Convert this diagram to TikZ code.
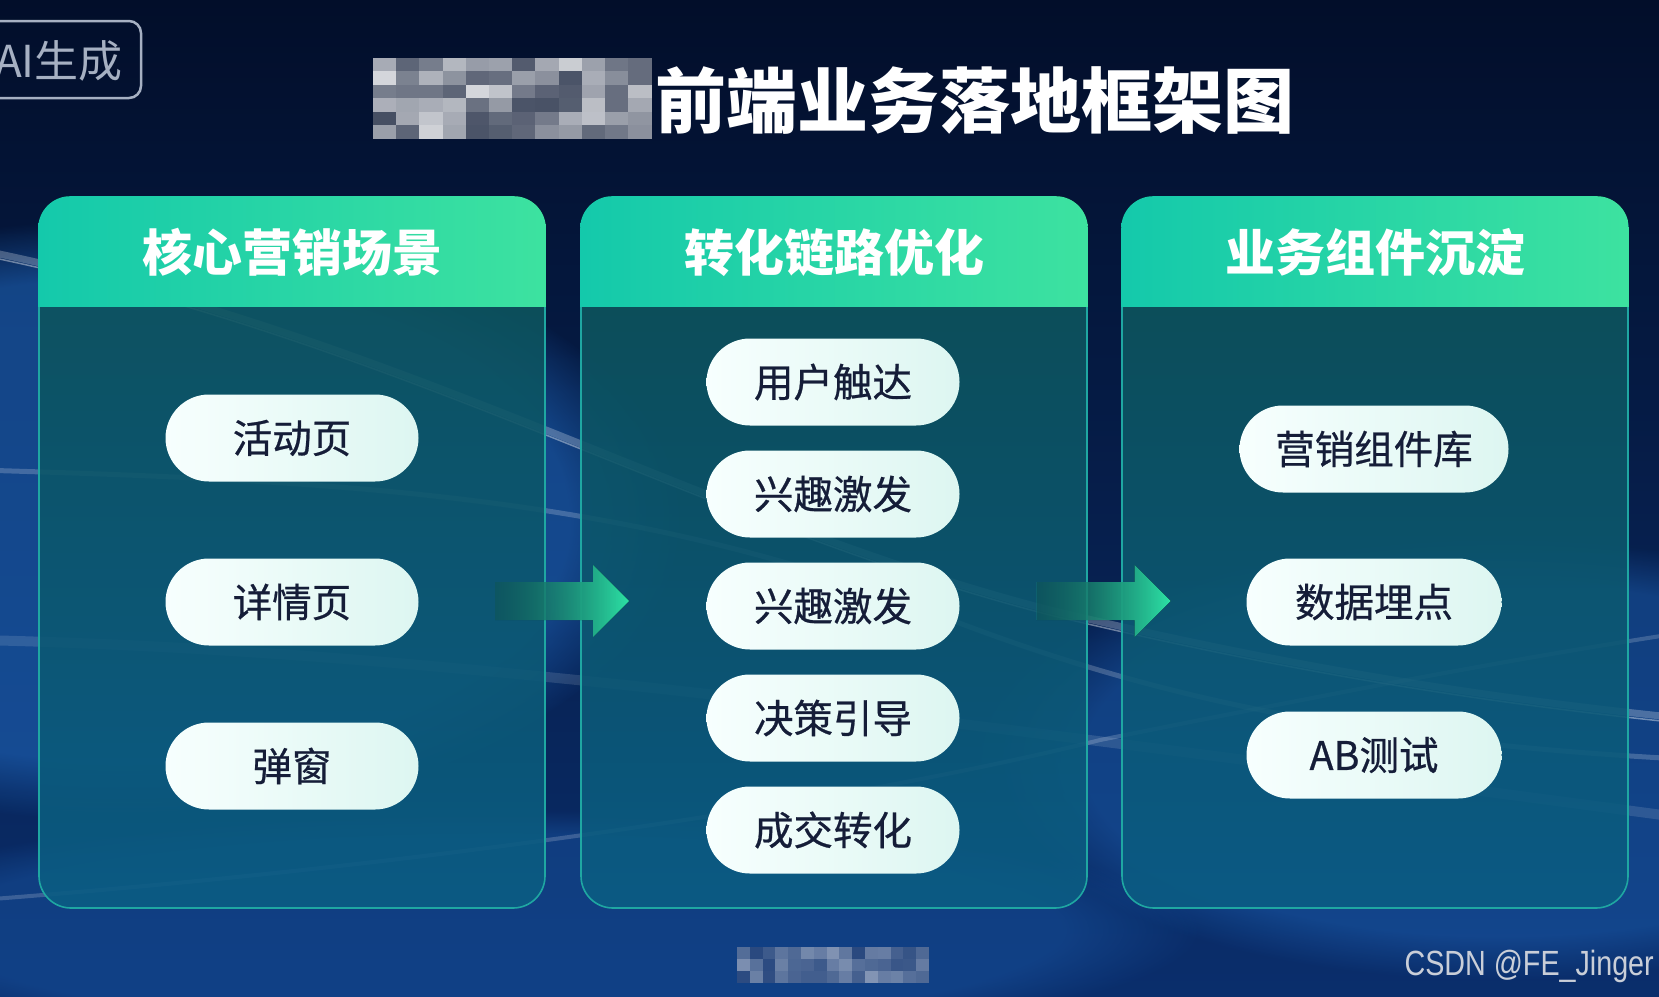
\documentclass[tikz,border=0pt]{standalone}
\usepackage{fontspec}
\newfontfamily\cjk{Noto Sans CJK SC}
\newfontfamily\cjkpill[FakeBold=0.6]{Noto Sans CJK SC}
\newfontfamily\wmfont[FakeStretch=0.82]{Liberation Sans}
\usetikzlibrary{shapes.misc,fadings,calc}
\definecolor{bgtop}{HTML}{020E2A}
\definecolor{bgbot}{HTML}{0A2E6C}
\definecolor{glow}{HTML}{1E64B8}
\definecolor{panelTop}{HTML}{0D5257}
\definecolor{panelBot}{HTML}{0B5C84}
\definecolor{panelLine}{HTML}{1FA7A2}
\definecolor{hdA}{HTML}{14C9AB}
\definecolor{hdB}{HTML}{3DE2A0}
\definecolor{pillA}{HTML}{F7FFFE}
\definecolor{pillB}{HTML}{DDF6F1}
\definecolor{pillText}{HTML}{151D38}
\definecolor{arrA}{HTML}{1A8E8E}
\definecolor{arrB}{HTML}{2DE3A6}
\definecolor{badgeGray}{HTML}{A6B0C2}
\definecolor{wmGray}{HTML}{C9CED8}
\tikzfading[name=fadeleft, left color=transparent!65, right color=transparent!0]
\tikzset{
  panelbox/.style={rounded corners=32pt, draw=panelLine, line width=1.6pt,
    top color=panelTop, bottom color=panelBot, fill opacity=0.9,
    minimum width=506pt, minimum height=711pt, inner sep=0pt},
  hdtext/.style={text=white, font=\cjk\bfseries\fontsize{50}{50}\selectfont},
  pill/.style={rounded rectangle, minimum width=253pt, minimum height=87pt,
    inner sep=0pt, left color=pillA, right color=pillB, text=pillText,
    font=\cjkpill\fontsize{39.5}{39.5}\selectfont},
  blockarrow/.style={left color=arrA, right color=arrB, path fading=fadeleft, fit fading=true},
  streak/.style={white, line cap=round}
}
\begin{document}
\begin{tikzpicture}[x=1pt,y=-1pt]
\useasboundingbox (0,0) rectangle (1659,996);
\clip (0,0) rectangle (1659,996);
% background
\fill[top color=bgtop, bottom color=bgbot] (0,0) rectangle (1659,996);
\fill[glow, opacity=0.6, path fading=circle with fuzzy edge 20 percent] (120,520) ellipse (560pt and 300pt);
\fill[glow, opacity=0.45, path fading=circle with fuzzy edge 20 percent] (1500,760) ellipse (520pt and 220pt);
\fill[glow, opacity=0.35, path fading=circle with fuzzy edge 20 percent] (500,930) ellipse (700pt and 120pt);
\draw[streak, opacity=0.25, line width=7pt] (-20,250) .. controls (400,335) and (700,520) .. (1050,610) .. controls (1300,670) and (1500,700) .. (1700,720);
\draw[streak, opacity=0.4, line width=1.5pt] (-20,255) .. controls (400,340) and (700,525) .. (1050,615) .. controls (1300,675) and (1500,705) .. (1700,725);
\draw[streak, opacity=0.2, line width=5pt] (-20,470) .. controls (300,480) and (600,490) .. (900,600) .. controls (1100,680) and (1300,740) .. (1700,760);
\draw[streak, opacity=0.18, line width=4pt] (1700,630) .. controls (1500,660) and (1300,700) .. (1100,740) .. controls (900,790) and (500,860) .. (-20,900);
\draw[streak, opacity=0.12, line width=10pt] (-20,640) .. controls (400,650) and (800,700) .. (1700,820);

% AI badge
\node[draw=badgeGray, line width=2.5pt, rounded corners=12pt, minimum width=160pt, minimum height=77pt] (badge) at (61,59.5) {};
\node[anchor=east, text=badgeGray, inner sep=0pt, font=\cjk\fontsize{44}{44}\selectfont] (badgetext) at (123,61) {AI生成};

% title
\pgfmathsetseed{11}
\foreach \i in {0,...,11}{
  \foreach \j in {0,...,5}{
    \pgfmathsetmacro\v{int(25+62*rnd)}
    \fill[white!\v!bgtop] (373+\i*23.2, 58+\j*13.4) rectangle ++(23.4,13.6);
  }
}
\node[text=white, inner sep=0pt, font=\cjk\bfseries\fontsize{71}{71}\selectfont] (title) at (975,101) {前端业务落地框架图};

% panels
\node[panelbox] (p1) at (292,552.5) {};
\node[panelbox] (p2) at (834,552.5) {};
\node[panelbox] (p3) at (1375,552.5) {};
\foreach \p in {p1,p2,p3}{
  \begin{scope}
    \clip[rounded corners=32pt] (\p.north west) rectangle (\p.south east);
    \fill[left color=hdA, right color=hdB] (\p.north west) rectangle ($(\p.north east)+(0,110)$);
  \end{scope}
}
\node[hdtext] (h1) at ($(p1.north)+(0,56)$) {核心营销场景};
\node[hdtext] (h2) at ($(p2.north)+(0,56)$) {转化链路优化};
\node[hdtext] (h3) at ($(p3.north)+(0,56)$) {业务组件沉淀};

% pills panel 1
\node[pill] (s1) at (292,438) {活动页};
\node[pill] (s2) at (292,602) {详情页};
\node[pill] (s3) at (292,766) {弹窗};
% pills panel 2
\node[pill] (c1) at (833,382) {用户触达};
\node[pill] (c2) at (833,494) {兴趣激发};
\node[pill] (c3) at (833,606) {兴趣激发};
\node[pill] (c4) at (833,718) {决策引导};
\node[pill] (c5) at (833,830) {成交转化};
% pills panel 3
\node[pill, minimum width=269pt] (b1) at (1374,449) {营销组件库};
\node[pill, minimum width=255pt] (b2) at (1374,602) {数据埋点};
\node[pill, minimum width=255pt] (b3) at (1374,755) {AB测试};

% block arrows
\coordinate (m1) at ($(p1.east)!0.5!(p2.west)+(0,48.5)$);
\coordinate (m2) at ($(p2.east)!0.5!(p3.west)+(0,48.5)$);
\foreach \m in {m1,m2}{
  \fill[blockarrow] ($(\m)+(-68,-19)$) -- ($(\m)+(30,-19)$) -- ($(\m)+(30,-36)$) -- ($(\m)+(66,0)$)
     -- ($(\m)+(30,36)$) -- ($(\m)+(30,19)$) -- ($(\m)+(-68,19)$) -- cycle;
}

% bottom mosaic
\pgfmathsetseed{5}
\foreach \i in {0,...,14}{
  \foreach \j in {0,...,2}{
    \pgfmathsetmacro\v{int(12+38*rnd)}
    \fill[white!\v!bgbot] (737+\i*12.8, 947+\j*11.8) rectangle ++(13,12);
  }
}

% watermark
\node[anchor=east, text=wmGray, inner sep=0pt, font=\wmfont\fontsize{35}{35}\selectfont] (wm) at (1654,966) {CSDN @FE\_Jinger};
\end{tikzpicture}
\end{document}
